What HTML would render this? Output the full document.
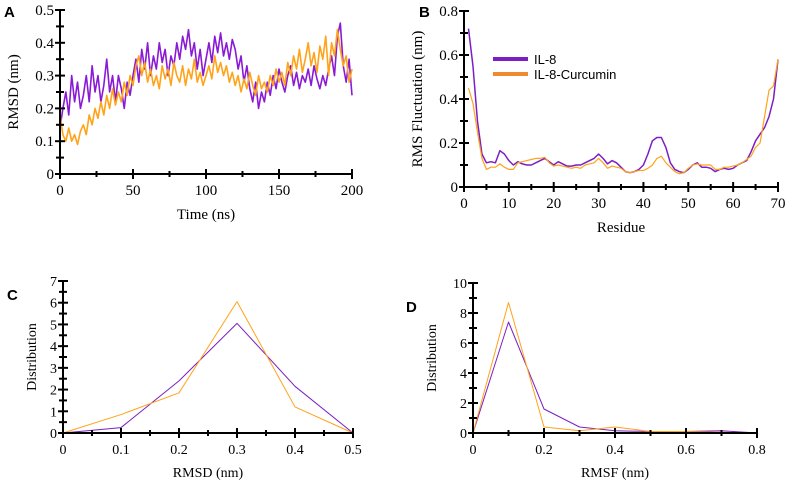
<!DOCTYPE html>
<html><head><meta charset="utf-8"><style>
html,body{margin:0;padding:0;background:#fff;}
svg{display:block;font-family:"Liberation Serif",serif;}
.pl{font-family:"Liberation Sans",sans-serif;font-weight:bold;font-size:15px;}
</style></head><body>
<svg id="fig" width="789" height="484" viewBox="0 0 789 484" xmlns="http://www.w3.org/2000/svg">
<text class="pl" x="4" y="17">A</text>
<text class="pl" x="419" y="17">B</text>
<text class="pl" x="7" y="300">C</text>
<text class="pl" x="406" y="312">D</text>
<g>
<line x1="493" y1="59" x2="528" y2="59" stroke="#7b1fc4" stroke-width="4"/>
<text x="534" y="64" font-family="Liberation Sans, sans-serif" font-size="13">IL-8</text>
<line x1="493" y1="74" x2="528" y2="74" stroke="#f08a30" stroke-width="4"/>
<text x="534" y="79" font-family="Liberation Sans, sans-serif" font-size="13">IL-8-Curcumin</text>
</g>
</svg>
<script>
// Panel A data (time step 2 ns)
const aTime = Array.from({length:101},(_,i)=>i*2);
const aIL8 = [0.14,0.2,0.25,0.18,0.3,0.22,0.28,0.2,0.24,0.3,
0.22,0.33,0.25,0.3,0.22,0.27,0.35,0.25,0.3,0.22,
0.3,0.26,0.2,0.28,0.24,0.3,0.35,0.28,0.38,0.32,
0.4,0.3,0.36,0.32,0.4,0.34,0.38,0.3,0.36,0.33,
0.4,0.35,0.42,0.38,0.44,0.36,0.4,0.32,0.38,0.3,
0.35,0.4,0.34,0.42,0.37,0.43,0.36,0.4,0.35,0.41,
0.38,0.32,0.36,0.28,0.33,0.26,0.22,0.28,0.2,0.25,
0.22,0.28,0.24,0.3,0.26,0.32,0.28,0.25,0.3,0.33,
0.27,0.31,0.26,0.3,0.28,0.32,0.27,0.33,0.29,0.26,
0.3,0.27,0.32,0.36,0.3,0.42,0.46,0.33,0.28,0.35,0.24];
const aCur = [0.18,0.12,0.1,0.14,0.1,0.12,0.09,0.13,0.15,0.12,
0.18,0.15,0.2,0.17,0.22,0.18,0.24,0.2,0.26,0.21,
0.25,0.22,0.28,0.24,0.3,0.27,0.33,0.36,0.3,0.34,
0.28,0.32,0.27,0.3,0.26,0.33,0.29,0.32,0.27,0.34,
0.3,0.28,0.33,0.27,0.32,0.29,0.35,0.28,0.31,0.27,
0.3,0.33,0.29,0.36,0.31,0.34,0.3,0.33,0.28,0.31,
0.27,0.3,0.25,0.29,0.26,0.31,0.27,0.24,0.3,0.26,
0.28,0.25,0.3,0.27,0.32,0.28,0.31,0.27,0.34,0.3,
0.36,0.32,0.38,0.31,0.35,0.4,0.33,0.37,0.31,0.39,
0.35,0.42,0.3,0.4,0.36,0.44,0.38,0.33,0.36,0.28,0.32];
// Panel B data
const bResidue = Array.from({length:70},(_,i)=>i+1);
const bIL8 = [0.72,0.55,0.3,0.15,0.11,0.115,0.11,0.165,0.15,0.12,0.1,0.115,0.105,0.1,0.1,0.11,0.12,0.13,0.115,0.1,
0.115,0.105,0.095,0.095,0.1,0.1,0.11,0.12,0.13,0.15,0.13,0.105,0.12,0.11,0.09,0.07,0.065,0.07,0.08,0.1,
0.15,0.21,0.225,0.225,0.18,0.11,0.08,0.07,0.065,0.08,0.1,0.11,0.09,0.09,0.085,0.07,0.08,0.085,0.08,0.085,
0.1,0.11,0.12,0.16,0.21,0.24,0.27,0.32,0.4,0.58];
const bCur = [0.45,0.38,0.25,0.13,0.08,0.09,0.09,0.105,0.09,0.08,0.08,0.11,0.115,0.12,0.125,0.13,0.13,0.135,0.11,0.095,
0.1,0.095,0.09,0.085,0.09,0.085,0.1,0.105,0.11,0.13,0.11,0.085,0.095,0.09,0.085,0.07,0.065,0.07,0.075,0.075,
0.085,0.1,0.13,0.14,0.11,0.09,0.07,0.06,0.065,0.085,0.1,0.105,0.1,0.1,0.1,0.08,0.08,0.09,0.09,0.095,
0.1,0.11,0.125,0.14,0.18,0.2,0.32,0.44,0.46,0.58];
// Panel C data
const cBins = [0,0.1,0.2,0.3,0.4,0.5];
const cIL8 = [0,0.25,2.4,5.05,2.15,0];
const cCur = [0,0.85,1.85,6.05,1.2,0];
// Panel D data
const dBins = [0,0.1,0.2,0.3,0.4,0.5,0.6,0.7,0.8];
const dIL8 = [0,7.4,1.6,0.4,0.15,0.1,0.1,0.15,0];
const dCur = [0,8.7,0.4,0.15,0.4,0.1,0.1,0.05,0];

const NS='http://www.w3.org/2000/svg';
const svg=document.getElementById('fig');
function mk(tag,attrs,parent){const e=document.createElementNS(NS,tag);for(const k in attrs)e.setAttribute(k,attrs[k]);(parent||svg).appendChild(e);return e;}
const PURPLE='#7b1fc4', ORANGE='#ffa31a';

function panel(p){
  const g=mk('g',{});
  
  
  const sx=v=>p.x0+(v-p.xmin)/(p.xmax-p.xmin)*(p.x1-p.x0);
  const sy=v=>p.y0-(v-p.ymin)/(p.ymax-p.ymin)*(p.y0-p.y1);
  p.series.forEach(s=>{
    const d=s.y.map((v,i)=>(i?'L':'M')+sx(s.x[i]).toFixed(2)+' '+sy(v).toFixed(2)).join(' ');
    const path=mk('path',{d:d,fill:'none',stroke:s.color,'stroke-width':s.w,'stroke-linejoin':'round'},g);
    
    
  });
  const ax=mk('g',{},g);
  
  
  mk('line',{x1:p.x0,y1:p.y0,x2:p.x1,y2:p.y0,stroke:'#000','stroke-width':2},ax);
  mk('line',{x1:p.x0,y1:p.y0,x2:p.x0,y2:p.y1,stroke:'#000','stroke-width':2},ax);
  const nx=Math.round((p.xmax-p.xmin)/p.xminor);
  for(let i=0;i<=nx;i++){const v=p.xmin+i*p.xminor;const X=sx(v);const major=i%p.xratio===0;
    mk('line',{x1:X,y1:p.y0-(major?5:3),x2:X,y2:p.y0+(major?5:3),stroke:'#000','stroke-width':2},ax);
    if(major){const t=mk('text',{x:X,y:p.y0+p.xto,'text-anchor':'middle','font-size':p.fs},ax);t.textContent=p.xfmt(v);}}
  const ny=Math.round((p.ymax-p.ymin)/p.yminor);
  for(let i=0;i<=ny;i++){const v=p.ymin+i*p.yminor;const Y=sy(v);const major=i%p.yratio===0;
    mk('line',{x1:p.x0-(major?5:4),y1:Y,x2:p.x0+(major?5:4),y2:Y,stroke:'#000','stroke-width':2},ax);
    if(major){const t=mk('text',{x:p.x0-6,y:Y+5,'text-anchor':'end','font-size':p.fs},ax);t.textContent=p.yfmt(v);}}
  const xt=mk('text',{x:(p.x0+p.x1)/2,y:p.y0+p.xlo,'text-anchor':'middle','font-size':p.lfs},g);
  xt.textContent=p.xlabel;
  
  
  const yt=mk('text',{x:0,y:0,'text-anchor':'middle','font-size':p.lfs,transform:`translate(${p.ylx},${(p.y0+p.y1)/2}) rotate(-90)`},g);
  yt.textContent=p.ylabel;
  
  
}
const f1=v=>String(Math.round(v*10)/10), f0=v=>String(Math.round(v));
panel({name:'panel-a-rmsd',x0:60,x1:352,y0:174,y1:10,xmin:0,xmax:200,ymin:0,ymax:0.5,xminor:25,xratio:2,yminor:0.05,yratio:2,
  xfmt:f0,yfmt:f1,fs:15,lfs:15,xto:21,xlo:45,xlabel:'Time (ns)',ylabel:'RMSD (nm)',ylx:18,
  series:[{name:'rmsd-il8-line',x:aTime,y:aIL8,color:'#8a1ad6',w:1.6},{name:'rmsd-il8-curcumin-line',x:aTime,y:aCur,color:ORANGE,w:1.6}]});
panel({name:'panel-b-rmsf',x0:464,x1:778,y0:187,y1:11,xmin:0,xmax:70,ymin:0,ymax:0.8,xminor:5,xratio:2,yminor:0.1,yratio:2,
  xfmt:f0,yfmt:f1,fs:15,lfs:15,xto:21,xlo:45,xlabel:'Residue',ylabel:'RMS Fluctuation (nm)',ylx:422,
  series:[{name:'rmsf-il8-line',x:bResidue,y:bIL8,color:PURPLE,w:1.5},{name:'rmsf-il8-curcumin-line',x:bResidue,y:bCur,color:ORANGE,w:1.2}]});
panel({name:'panel-c-rmsd-distribution',x0:63,x1:353,y0:433,y1:281,xmin:0,xmax:0.5,ymin:0,ymax:7,xminor:0.05,xratio:2,yminor:0.5,yratio:2,
  xfmt:f1,yfmt:f0,fs:14,lfs:14,xto:21,xlo:44,xlabel:'RMSD (nm)',ylabel:'Distribution',ylx:36,
  series:[{name:'dist-rmsd-il8-line',x:cBins,y:cIL8,color:PURPLE,w:1},{name:'dist-rmsd-il8-curcumin-line',x:cBins,y:cCur,color:ORANGE,w:1}]});
panel({name:'panel-d-rmsf-distribution',x0:473,x1:757,y0:433,y1:283,xmin:0,xmax:0.8,ymin:0,ymax:10,xminor:0.1,xratio:2,yminor:1,yratio:2,
  xfmt:f1,yfmt:f0,fs:14,lfs:14,xto:21,xlo:44,xlabel:'RMSF (nm)',ylabel:'Distribution',ylx:436,
  series:[{name:'dist-rmsf-il8-line',x:dBins,y:dIL8,color:PURPLE,w:1},{name:'dist-rmsf-il8-curcumin-line',x:dBins,y:dCur,color:ORANGE,w:1}]});
</script>
</body></html>
